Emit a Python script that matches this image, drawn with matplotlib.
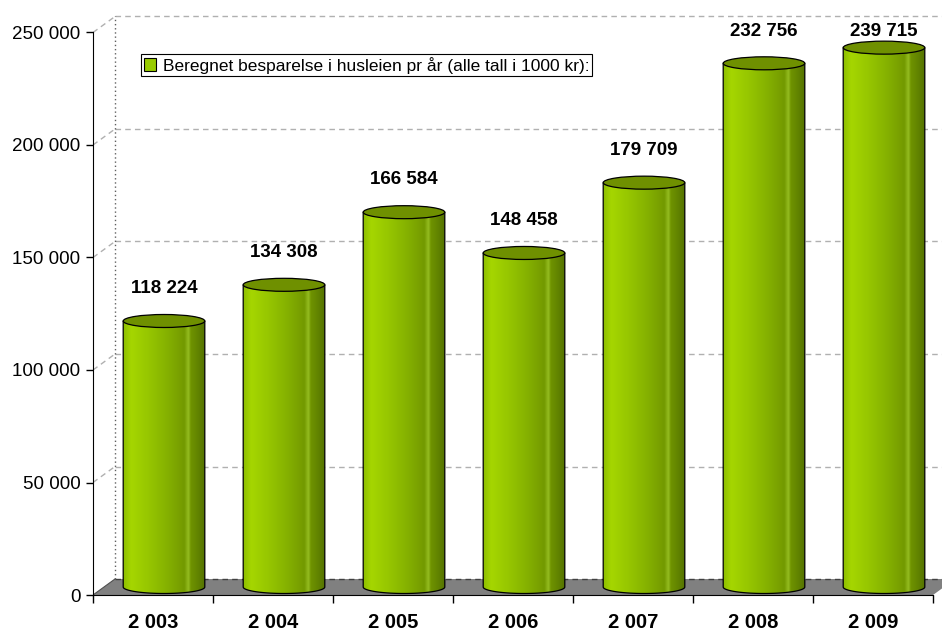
import numpy as np
import matplotlib.pyplot as plt
from matplotlib.patches import Polygon, Ellipse, Patch

years = ['2 003', '2 004', '2 005', '2 006', '2 007', '2 008', '2 009']
savings = [118224, 134308, 166584, 148458, 179709, 232756, 239715]
yticks = [0, 50000, 100000, 150000, 200000, 250000]
ytick_labels = ['0', '50 000', '100 000', '150 000', '200 000', '250 000']
legend_label = 'Beregnet besparelse i husleien pr år (alle tall i 1000 kr):'

plt.rcParams['font.family'] = ['Liberation Sans', 'DejaVu Sans']

W, H = 942, 631
fig = plt.figure(figsize=(W / 100, H / 100), dpi=100)

# plot area in pixels: front value axis at x=93, zero line at y=595
x0_px, y0_px = 93, 595
px_per_cat = 120.0
px_per_unit = 2.25 / 1000
ax = fig.add_axes([x0_px / W, (H - y0_px) / H, (W - x0_px) / W, y0_px / H])
xmax = (W - x0_px) / px_per_cat
ax.set_xlim(0, xmax)
ax.set_ylim(0, y0_px / px_per_unit)

# 3d depth of the box
dX = 22 / px_per_cat
dY = 16 / px_per_unit
ncat = len(years)
top = yticks[-1]

# floor
floor = Polygon([(0, 0), (ncat, 0), (ncat + dX, dY), (dX, dY)],
                closed=True, facecolor='#808080', edgecolor='none', zorder=1)
ax.add_patch(floor)
ax.plot([dX, xmax], [dY, dY], color='#404040', lw=1, ls=(0, (4, 3)), zorder=1.2)
ax.plot([0, dX], [0, dY], color='#505050', lw=0.8, zorder=1.2)

# back wall gridlines
for t in yticks[1:]:
    ax.plot([0, dX], [t, t + dY], color='#b0b0b0', lw=1, ls=(0, (4, 3)), zorder=0.5)
    ax.plot([dX, xmax], [t + dY, t + dY], color='#b0b0b0', lw=1, ls=(0, (4, 3)), zorder=0.5)
ax.plot([dX, dX], [dY, top + dY], color='#606060', lw=1, ls=(0, (1, 2)), zorder=0.6)

# cylinders
grad_pos = [0.0, 0.1, 0.3, 0.55, 0.75, 0.8, 0.83, 0.92, 1.0]
grad_col = ['#8cbd00', '#a5d600', '#97c700', '#84b000', '#739900',
            '#94bd20', '#6f9300', '#618300', '#557300']
rgb = np.array([plt.matplotlib.colors.to_rgb(c) for c in grad_col])
xs = np.linspace(0, 1, 200)
grad = np.stack([np.interp(xs, grad_pos, rgb[:, k]) for k in range(3)], axis=-1)[None, :, :]

half_w = 0.34
eh = 6.5 / px_per_unit
tt = np.linspace(np.pi, 2 * np.pi, 60)
for i, v in enumerate(savings):
    cx = i + 0.5 + dX / 2
    yb = dY / 2
    yt = v + dY / 2
    pts = [(cx - half_w, yt)]
    pts += list(zip(cx + half_w * np.cos(tt), yb + eh * np.sin(tt)))
    pts += [(cx + half_w, yt)]
    body = Polygon(pts, closed=True, facecolor='none', edgecolor='black', lw=0.9, zorder=3)
    ax.add_patch(body)
    im = ax.imshow(grad, extent=(cx - half_w, cx + half_w, yb - eh, yt),
                   aspect='auto', zorder=2.5, interpolation='bilinear')
    im.set_clip_path(body)
    cap = Ellipse((cx, yt), 2 * half_w, 2 * eh, facecolor='#6f9000',
                  edgecolor='black', lw=0.9, zorder=3.5)
    ax.add_patch(cap)
    ly = min(yt + 14500, 250500)
    ax.text(cx, ly, f'{v:,}'.replace(',', ' '), ha='center', va='center',
            fontsize=13.5, fontweight='bold', zorder=5)

ax.set_xlim(0, xmax)
ax.set_ylim(0, y0_px / px_per_unit)

# axes
for s in ['top', 'right']:
    ax.spines[s].set_visible(False)
ax.spines['left'].set_bounds(0, top)
ax.spines['bottom'].set_bounds(0, ncat)
ax.spines['left'].set_zorder(4)
ax.spines['bottom'].set_zorder(4)
ax.set_yticks(yticks)
ax.set_yticklabels(ytick_labels, fontsize=13.5)
ax.tick_params(axis='y', length=5, width=1, pad=4)
ax.set_xticks(np.arange(ncat + 1))
ax.set_xticklabels([])
ax.tick_params(axis='x', which='major', length=6, width=1)
ax.set_xticks(np.arange(ncat) + 0.5, minor=True)
ax.set_xticklabels(years, minor=True, fontsize=14.5, fontweight='bold')
ax.tick_params(axis='x', which='minor', length=0, pad=13)

# legend
leg = ax.legend(handles=[Patch(facecolor='#99cc00', edgecolor='black', lw=0.8, label=legend_label)],
                loc='upper left', bbox_to_anchor=(141 / W, 1 - 54 / H), bbox_transform=fig.transFigure,
                borderaxespad=0, fancybox=False, framealpha=1, edgecolor='black', fontsize=12.5,
                handlelength=0.7, handleheight=0.7, handletextpad=0.4, borderpad=0.15)
leg.get_frame().set_linewidth(0.8)
leg.set_zorder(10)

fig.savefig('out.png', dpi=100)
